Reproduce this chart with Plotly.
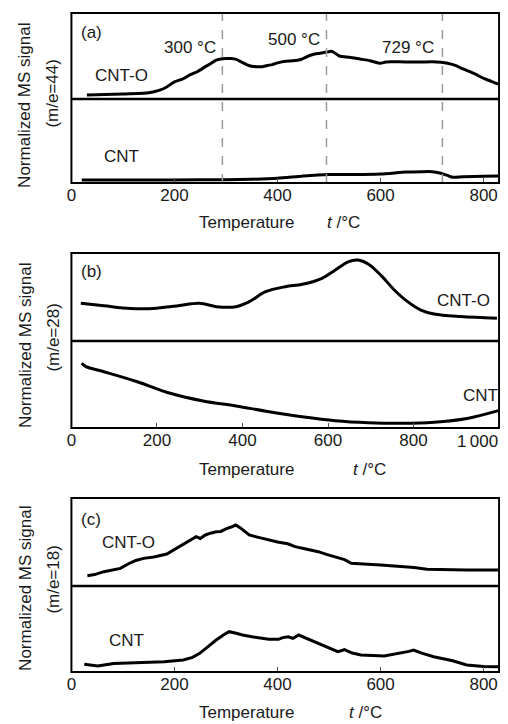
import plotly.graph_objects as go

# ---------------- data (normalized signal, 0..1 within each half-panel) -------------
# Panel (a) m/e=44
a_cnto_T = [30, 100, 150, 170, 185, 200, 215, 230, 245, 260, 270, 280, 290, 300, 310, 320, 330, 340, 350, 360, 370,
            380, 390, 400, 415, 430, 445, 460, 470, 480, 490, 500, 505, 510, 520, 540, 560, 580, 595, 600, 610, 620,
            650, 680, 700, 730, 745, 760, 780, 800, 815, 828]
a_cnto_v = [0.047, 0.058, 0.073, 0.10, 0.14, 0.20, 0.23, 0.28, 0.32, 0.376, 0.41, 0.45, 0.465, 0.47, 0.47, 0.46, 0.43,
            0.40, 0.38, 0.376, 0.375, 0.39, 0.40, 0.42, 0.44, 0.445, 0.46, 0.50, 0.52, 0.53, 0.54, 0.55, 0.555, 0.54,
            0.50, 0.485, 0.465, 0.445, 0.42, 0.415, 0.43, 0.434, 0.43, 0.43, 0.432, 0.415, 0.39, 0.35, 0.30, 0.24,
            0.205, 0.174]
a_cnt_T = [20, 100, 200, 300, 350, 400, 450, 500, 550, 600, 650, 680, 700, 715, 730, 740, 760, 800, 828]
a_cnt_v = [0.036, 0.036, 0.036, 0.04, 0.045, 0.056, 0.083, 0.10, 0.10, 0.107, 0.13, 0.135, 0.135, 0.12, 0.09, 0.068,
           0.075, 0.08, 0.083]
a_marks = [293, 495, 720]
a_mark_labels = ["300 °C", "500 °C", "729 °C"]

# Panel (b) m/e=28
b_cnto_T = [22, 76, 138, 192, 246, 300, 339, 385, 416, 454, 500, 540, 586, 617, 647, 670, 694, 725, 755, 786, 817,
            848, 910, 995]
b_cnto_v = [0.428, 0.40, 0.37, 0.37, 0.398, 0.428, 0.39, 0.39, 0.447, 0.56, 0.617, 0.644, 0.712, 0.807, 0.90, 0.92,
            0.875, 0.74, 0.58, 0.447, 0.352, 0.307, 0.277, 0.258]
b_cnt_T = [24, 34, 76, 154, 231, 308, 385, 462, 539, 617, 694, 771, 848, 925, 998]
b_cnt_v = [0.744, 0.705, 0.647, 0.532, 0.399, 0.31, 0.253, 0.187, 0.13, 0.084, 0.061, 0.054, 0.066, 0.11, 0.20]

# Panel (c) m/e=18
c_cnto_T = [31, 45, 63, 80, 95, 110, 125, 140, 160, 185, 195, 210, 225, 235, 242, 250, 260, 270, 281, 290, 300, 310,
            319, 328, 345, 365, 383, 400, 420, 434, 455, 479, 495, 511, 530, 543, 560, 575, 600, 639, 665, 690, 720,
            767, 800, 828]
c_cnto_v = [0.117, 0.13, 0.163, 0.18, 0.20, 0.25, 0.29, 0.314, 0.33, 0.364, 0.40, 0.447, 0.50, 0.54, 0.56, 0.54, 0.58,
            0.60, 0.617, 0.62, 0.65, 0.67, 0.693, 0.66, 0.58, 0.55, 0.523, 0.50, 0.48, 0.447, 0.42, 0.39, 0.36, 0.333,
            0.30, 0.258, 0.25, 0.247, 0.24, 0.227, 0.21, 0.19, 0.185, 0.182, 0.182, 0.182]
c_cnt_T = [25, 51, 82, 110, 140, 180, 217, 235, 249, 265, 281, 295, 306, 320, 332, 360, 383, 402, 410, 421, 430, 441,
           460, 479, 500, 517, 525, 530, 545, 562, 607, 639, 655, 664, 680, 703, 740, 767, 800, 828]
c_cnt_v = [0.09, 0.07, 0.10, 0.105, 0.11, 0.12, 0.14, 0.17, 0.217, 0.30, 0.372, 0.43, 0.469, 0.45, 0.43, 0.40, 0.38,
           0.38, 0.40, 0.41, 0.39, 0.43, 0.38, 0.333, 0.28, 0.236, 0.25, 0.26, 0.22, 0.198, 0.186, 0.217, 0.24, 0.256,
           0.22, 0.178, 0.13, 0.081, 0.065, 0.062]

x_ticks_ac = [0, 200, 400, 600, 800]
x_ticks_b = [0, 200, 400, 600, 800, 1000]
x_ticktext_b = ["0", "200", "400", "600", "800", ""]
last_tick_label_b = "1\u2009000"   # drawn right-aligned at the panel edge

# ---------------- layout geometry -------------
# page is 508x724; the html body adds an 8px margin, so the figure is 500x716 placed at (8, 8)
OFF = 8
W, H = 508 - OFF, 724 - OFF

def py(y):          # page pixel y -> paper fraction
    return 1 - (y - OFF) / H

def pxx(x):         # page pixel x -> paper fraction
    return (x - OFF) / W

X0, X1 = pxx(67), pxx(499)
panels = {
    "a": (13, 99, 183),
    "b": (253, 341, 428),
    "c": (498, 586, 672),
}
FONT = "Liberation Sans, Arial, sans-serif"
TXT = "#1a1a1a"

fig = go.Figure()

line = dict(color="black", width=3)
fig.add_trace(go.Scatter(x=a_cnto_T, y=a_cnto_v, xaxis="x", yaxis="y2", mode="lines", line=dict(line, shape="spline", smoothing=0.6)))
fig.add_trace(go.Scatter(x=a_cnt_T, y=a_cnt_v, xaxis="x", yaxis="y", mode="lines", line=dict(line, shape="spline", smoothing=0.6)))
fig.add_trace(go.Scatter(x=b_cnto_T, y=b_cnto_v, xaxis="x2", yaxis="y4", mode="lines", line=dict(line, shape="spline")))
fig.add_trace(go.Scatter(x=b_cnt_T, y=b_cnt_v, xaxis="x2", yaxis="y3", mode="lines", line=dict(line, shape="spline")))
fig.add_trace(go.Scatter(x=c_cnto_T, y=c_cnto_v, xaxis="x3", yaxis="y6", mode="lines", line=dict(line)))
fig.add_trace(go.Scatter(x=c_cnt_T, y=c_cnt_v, xaxis="x3", yaxis="y5", mode="lines", line=dict(line)))

def xaxis_cfg(anchor, rng, tickvals, ticktext=None):
    d = dict(domain=[X0, X1], anchor=anchor, range=rng, tickvals=tickvals, ticks="inside", ticklen=5,
             tickcolor="#555", tickwidth=1, showgrid=False, zeroline=False, showline=False,
             tickfont=dict(family=FONT, size=17, color=TXT))
    if ticktext is not None:
        d["ticktext"] = ticktext
    return d

def yaxis_cfg(anchor, lo, hi):
    return dict(domain=[py(lo), py(hi)], anchor=anchor, range=[0, 1], showticklabels=False, ticks="",
                showgrid=False, zeroline=False, showline=False)

ta, ma, ba = panels["a"]
tb, mb, bb = panels["b"]
tc, mc, bc = panels["c"]

fig.update_layout(
    width=W, height=H, margin=dict(l=0, r=0, t=0, b=0),
    paper_bgcolor="white", plot_bgcolor="white", showlegend=False,
    xaxis=xaxis_cfg("y", [0, 830], x_ticks_ac),
    xaxis2=xaxis_cfg("y3", [0, 1000], x_ticks_b, x_ticktext_b),
    xaxis3=xaxis_cfg("y5", [0, 830], x_ticks_ac),
    yaxis=yaxis_cfg("x", ba, ma),
    yaxis2=yaxis_cfg("x", ma, ta),
    yaxis3=yaxis_cfg("x2", bb, mb),
    yaxis4=yaxis_cfg("x2", mb, tb),
    yaxis5=yaxis_cfg("x3", bc, mc),
    yaxis6=yaxis_cfg("x3", mc, tc),
)

shapes = []
for m in a_marks:
    shapes.append(dict(type="line", xref="x", yref="paper", x0=m, x1=m, y0=py(ba), y1=py(ta),
                       line=dict(color="#999", width=1.5, dash="dash")))
for (t_, m_, b_) in panels.values():
    shapes.append(dict(type="rect", xref="paper", yref="paper", x0=X0, x1=X1, y0=py(b_), y1=py(t_),
                       line=dict(color="black", width=2)))
    shapes.append(dict(type="line", xref="paper", yref="paper", x0=X0, x1=X1, y0=py(m_), y1=py(m_),
                       line=dict(color="black", width=2.5)))
fig.update_layout(shapes=shapes)

ann = []
def t(x, y, s, size=17, angle=0, xanchor="center"):
    ann.append(dict(x=pxx(x), y=py(y), xref="paper", yref="paper", text=s, showarrow=False, textangle=angle,
                    xanchor=xanchor, yanchor="middle", font=dict(family=FONT, size=size, color=TXT)))

t(75, 33, "(a)", xanchor="left")
t(187, 47, a_mark_labels[0])
t(292, 40, a_mark_labels[1])
t(407, 47, a_mark_labels[2])
t(118, 76, "CNT-O")
t(118, 156, "CNT")

t(75, 272, "(b)", xanchor="left")
t(463, 300, "CNT-O")
t(480, 395, "CNT")
t(500, 441, last_tick_label_b, xanchor="right")

t(75, 519, "(c)", xanchor="left")
t(125, 542, "CNT-O")
t(123, 640, "CNT")

t(244, 222, "Temperature")
t(342, 222, "<i>t</i> /°C")
t(244, 470, "Temperature")
t(368, 470, "<i>t</i> /°C")
t(244, 712, "Temperature")
t(364, 712, "<i>t</i> /°C")

t(20, 105, "Normalized MS signal", angle=-90)
t(48, 93, "(m/e=44)", angle=-90)
t(20, 345, "Normalized MS signal", angle=-90)
t(48, 337, "(m/e=28)", angle=-90)
t(20, 588, "Normalized MS signal", angle=-90)
t(48, 579, "(m/e=18)", angle=-90)

fig.update_layout(annotations=ann)
fig.write_html("out.html")
